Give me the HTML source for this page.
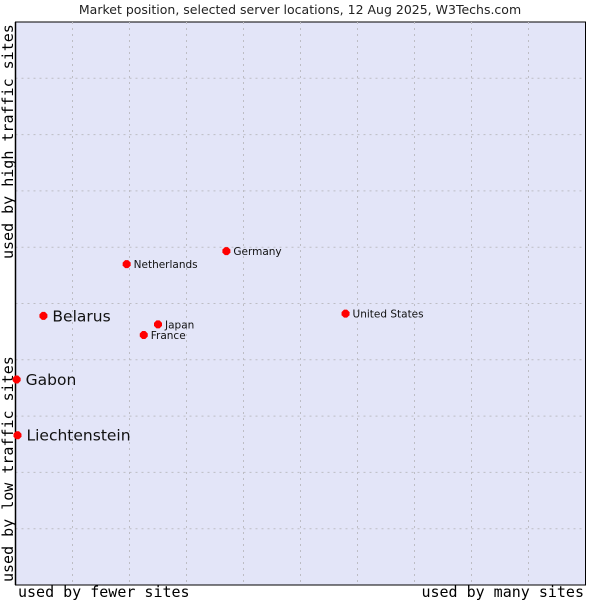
<!DOCTYPE html>
<html><head><meta charset="utf-8"><style>
body{margin:0;background:#fff;width:600px;height:600px;overflow:hidden}
</style></head><body>
<svg width="600" height="600" style="font-family:'DejaVu Sans','Liberation Sans',sans-serif">
<text x="300" y="14" text-anchor="middle" font-size="12.5" fill="#222">Market position, selected server locations, 12 Aug 2025, W3Techs.com</text>
<rect x="15.5" y="22" width="570" height="563" fill="#e3e5f8" stroke="#000" stroke-width="1"/>
<g id="grid"></g>
<line x1="15.5" y1="22" x2="15.5" y2="585" stroke="#000" stroke-width="1.5"/>
<text transform="translate(13,259) rotate(-90)" font-family="'DejaVu Sans Mono','Liberation Mono',monospace" font-size="15" fill="#000">used by high traffic sites</text>
<text transform="translate(13,582) rotate(-90)" font-family="'DejaVu Sans Mono','Liberation Mono',monospace" font-size="15" fill="#000">used by low traffic sites</text>
<text x="18" y="597" font-family="'DejaVu Sans Mono','Liberation Mono',monospace" font-size="15" fill="#000">used by fewer sites</text>
<text x="584" y="597" text-anchor="end" font-family="'DejaVu Sans Mono','Liberation Mono',monospace" font-size="15" fill="#000">used by many sites</text>
<g id="points"></g>
</svg>
<script>
const countries=["Netherlands","Germany","Belarus","Japan","France","United States","Gabon","Liechtenstein"];
const xValues=[19.5,37.0,4.9,25.0,22.5,57.9,0.2,0.35];
const yValues=[57.0,59.3,47.8,46.3,44.4,48.2,36.5,26.6];
const highlighted=[false,false,true,false,false,false,true,true];
const NS="http://www.w3.org/2000/svg";
const L=15.5,R=585.5,T=22,B=585;
const sx=v=>L+(R-L)*v/100, sy=v=>B-(B-T)*v/100;
const grid=document.getElementById('grid');
for(let i=1;i<10;i++){
 let a=document.createElementNS(NS,'line');
 a.setAttribute('x1',sx(i*10));a.setAttribute('x2',sx(i*10));a.setAttribute('y1',T);a.setAttribute('y2',B);
 a.setAttribute('stroke','#bdbdc4');a.setAttribute('stroke-dasharray','2,4');
 
 
 grid.appendChild(a);
 let b=document.createElementNS(NS,'line');
 b.setAttribute('y1',sy(i*10));b.setAttribute('y2',sy(i*10));b.setAttribute('x1',L);b.setAttribute('x2',R);
 b.setAttribute('stroke','#bdbdc4');b.setAttribute('stroke-dasharray','2,4');
 
 
 grid.appendChild(b);
}
const pts=document.getElementById('points');
countries.forEach((c,i)=>{
 const x=sx(xValues[i]),y=sy(yValues[i]);
 let p=document.createElementNS(NS,'path');
 p.setAttribute('d',`M${x-4},${y-1.5}L${x-1.5},${y-4}L${x+1.5},${y-4}L${x+4},${y-1.5}L${x+4},${y+1.5}L${x+1.5},${y+4}L${x-1.5},${y+4}L${x-4},${y+1.5}Z`);
 p.setAttribute('fill','#f00');
 
 
 pts.appendChild(p);
 let t=document.createElementNS(NS,'text');
 const big=highlighted[i];
 t.setAttribute('x',x+(big?9:7));t.setAttribute('y',y+(big?5.5:4));
 t.setAttribute('font-size',big?15.5:10.5);t.setAttribute('fill','#111');
 t.textContent=c;
 
 
 pts.appendChild(t);
});
</script>
</body></html>
